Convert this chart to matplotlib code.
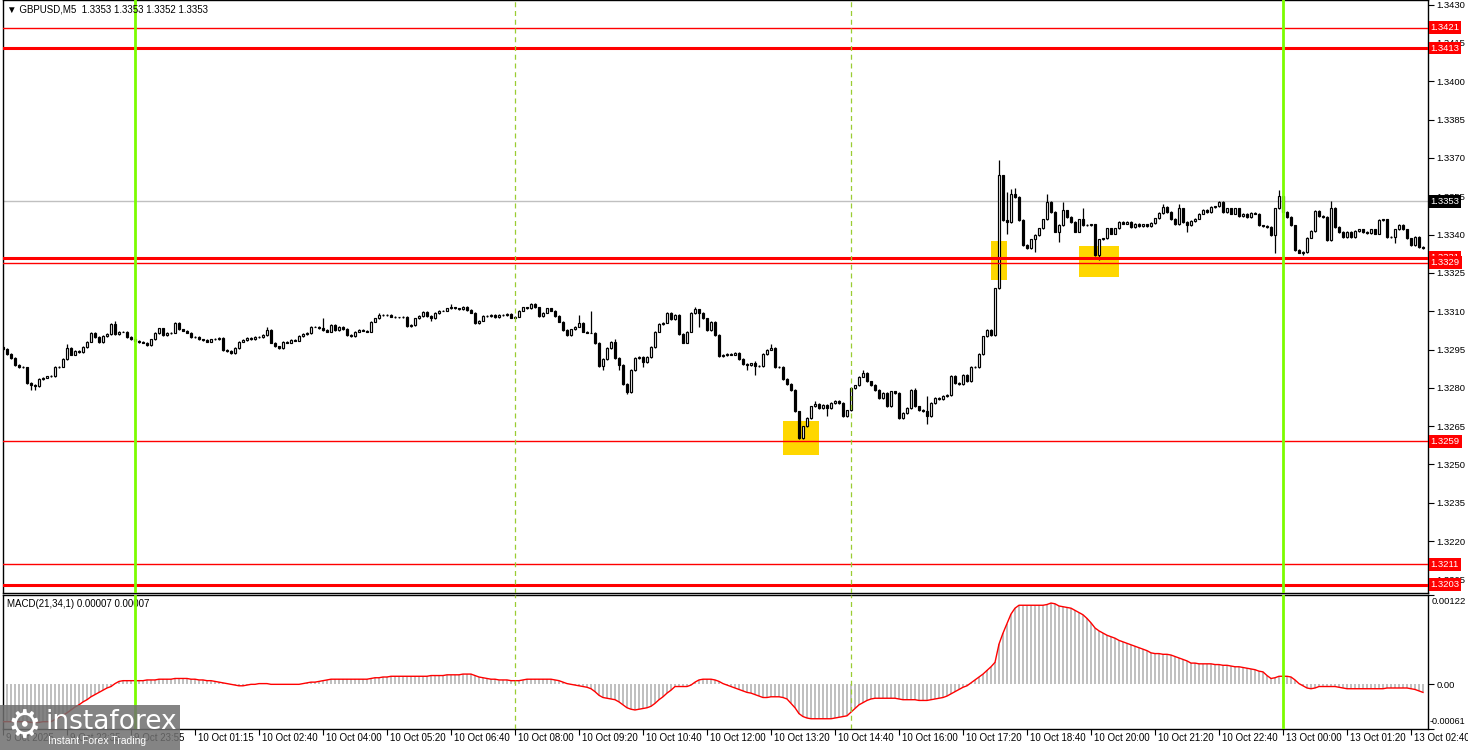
import numpy as np
import matplotlib
matplotlib.use('Agg')
import matplotlib.pyplot as plt
from matplotlib.patches import Rectangle
import matplotlib.transforms as mtransforms

plt.rcParams['font.family'] = ['Liberation Sans', 'DejaVu Sans']

W, H = 1468, 750

# ---- data (prices in 1e-5 units) ----
first_open = 132960
closes_pt = [
    132951, 132933, 132916, 132890, 132881, 132880, 132818, 132813, 132806, 132834,
    132840, 132845, 132847, 132881, 132883, 132912, 132955, 132930, 132945, 132940,
    132960, 132981, 133014, 133000, 132980, 133003, 133011, 133050, 133011, 133020,
    133020, 133000, 132990, 132985, 132980, 132977, 132968, 132990, 133014, 133033,
    133007, 133014, 133016, 133053, 133029, 133024, 133016, 133000, 132998, 132990,
    132988, 132981, 132990, 132992, 132995, 132949, 132944, 132935, 132955, 132981,
    132988, 132995, 132990, 132999, 132998, 133007, 133027, 132977, 132962, 132955,
    132980, 132977, 132988, 132985, 133003, 133010, 133014, 133040, 133040, 133033,
    133027, 133020, 133046, 133025, 133040, 133030, 133007, 133003, 133020, 133027,
    133024, 133020, 133059, 133072, 133085, 133085, 133085, 133079, 133076, 133076,
    133079, 133042, 133046, 133072, 133081, 133098, 133081, 133072, 133092, 133102,
    133102, 133111, 133115, 133111, 133107, 133118, 133105, 133094, 133053, 133063,
    133081, 133081, 133085, 133076, 133085, 133085, 133088, 133075, 133079, 133102,
    133115, 133111, 133128, 133115, 133081, 133094, 133111, 133102, 133081, 133059,
    133027, 133007, 133029, 133040, 133055, 133020, 133016, 133016, 132975, 132884,
    132912, 132955, 132980, 132916, 132890, 132816, 132782, 132870, 132916, 132920,
    132900, 132920, 132959, 133020, 133050, 133055, 133094, 133068, 133085, 133011,
    132977, 133020, 133092, 133107, 133094, 133072, 133027, 133059, 133007, 132925,
    132929, 132933, 132930, 132936, 132912, 132894, 132890, 132896, 132886, 132886,
    132933, 132950, 132955, 132881, 132881, 132834, 132816, 132792, 132708, 132604,
    132649, 132682, 132727, 132738, 132721, 132734, 132721, 132740, 132750, 132740,
    132688, 132712, 132800, 132810, 132844, 132860, 132825, 132812, 132792, 132760,
    132779, 132727, 132786, 132779, 132682, 132701, 132721, 132792, 132727, 132714,
    132708, 132688, 132740, 132760, 132755, 132769, 132773, 132847, 132818, 132816,
    132851, 132825, 132881, 132881, 132933, 133001, 133027, 133007, 133189, 133632,
    133456, 133450, 133560, 133547, 133456, 133359, 133346, 133381, 133398, 133424,
    133459, 133528, 133489, 133411, 133437, 133495, 133469, 133450, 133411, 133459,
    133437, 133437, 133440, 133320, 133381, 133385, 133424, 133404, 133424, 133450,
    133443, 133450, 133428, 133443, 133433, 133440, 133433, 133446, 133463, 133485,
    133508, 133489, 133460, 133440, 133502, 133449, 133436, 133453, 133462, 133482,
    133498, 133489, 133508, 133510, 133528, 133489, 133502, 133482, 133502, 133472,
    133482, 133469, 133485, 133482, 133436, 133433, 133430, 133398, 133502, 133550,
    133489, 133469, 133436, 133339, 133329, 133332, 133388, 133414, 133492, 133472,
    133469, 133378, 133505, 133430, 133410, 133391, 133410, 133391, 133414, 133420,
    133410, 133407, 133420, 133404, 133456, 133459, 133391, 133391, 133420, 133437,
    133420, 133385, 133359, 133391, 133352, 133346,
]
# long wicks (bar index -> price in 1e-5)
highs_pt = {16: 132970, 28: 133060, 66: 133040, 80: 133072, 94: 133094, 112: 133130,
            144: 133085, 147: 133100, 153: 132990, 173: 133115, 188: 132905,
            192: 132972, 203: 132750, 215: 132870, 228: 132800, 231: 132770,
            249: 133690, 251: 133567, 252: 133580, 253: 133584, 261: 133560,
            265: 133528, 270: 133502, 290: 133521, 294: 133521, 319: 133574,
            332: 133532}
lows_pt = {7: 132792, 8: 132790, 107: 133060, 150: 132868, 154: 132870, 156: 132777,
           160: 132880, 174: 133040, 186: 132870, 188: 132850, 199: 132598,
           206: 132688, 231: 132660, 251: 133404, 258: 133333, 264: 133372,
           274: 133300, 296: 133411, 318: 133329, 325: 133320, 348: 133365}
wick_pt = 3

# MACD(21,34,1) main line, 1e-5 units
macd_pt = [
    -51, -51, -51, -51, -51, -51, -51, -52, -52, -52,
    -51, -51, -51, -48, -45, -42, -39, -35, -31, -28,
    -24, -21, -17, -14, -11, -8, -5, -3, 1, 4,
    5, 5, 5, 5, 5, 5, 6, 6, 6, 7,
    7, 7, 7, 8, 8, 8, 8, 7, 7, 6,
    6, 5, 5, 4, 3, 2, 1, 0, -1, -2,
    -2, -1, 0, 0, 1, 1, 1, 0, 0, 0,
    0, 0, 0, 0, 0, 1, 2, 3, 3, 4,
    5, 6, 7, 7, 7, 7, 7, 7, 7, 7,
    7, 7, 8, 9, 9, 10, 10, 11, 11, 11,
    11, 11, 11, 11, 11, 11, 11, 12, 12, 12,
    12, 13, 13, 13, 13, 14, 14, 14, 12, 10,
    9, 8, 7, 7, 6, 6, 6, 5, 5, 5,
    6, 7, 7, 7, 7, 7, 7, 7, 6, 5,
    3, 1, 0, -1, -2, -3, -4, -6, -10, -15,
    -18, -19, -20, -21, -24, -28, -32, -34, -35, -34,
    -33, -32, -30, -26, -21, -17, -12, -8, -3, -3,
    -3, -3, -1, 3, 6, 7, 7, 7, 6, 4,
    1, -1, -3, -5, -7, -9, -11, -12, -14, -16,
    -18, -18, -17, -17, -17, -18, -20, -26, -32, -40,
    -44, -46, -47, -47, -47, -47, -47, -47, -46, -45,
    -44, -43, -38, -33, -28, -25, -22, -20, -19, -19,
    -19, -19, -19, -19, -20, -21, -21, -21, -21, -22,
    -22, -22, -21, -20, -19, -18, -16, -13, -10, -7,
    -4, -2, 2, 6, 10, 14, 19, 24, 30, 55,
    70, 83, 96, 104, 108, 108, 108, 108, 108, 108,
    108, 109, 111, 110, 107, 106, 105, 104, 101, 98,
    95, 90, 84, 77, 73, 70, 67, 65, 63, 60,
    58, 56, 54, 52, 50, 48, 46, 43, 42, 42,
    41, 41, 40, 38, 36, 34, 32, 29, 29, 28,
    28, 28, 28, 27, 27, 26, 26, 25, 24, 24,
    23, 22, 21, 20, 18, 17, 12, 8, 9, 11,
    11, 11, 10, 6, 1, -2, -5, -6, -5, -3,
    -3, -3, -3, -3, -4, -5, -6, -6, -6, -6,
    -6, -6, -6, -6, -6, -6, -5, -5, -5, -5,
    -5, -5, -6, -7, -9, -11,
]

time_ticks = [0, 16, 32, 48, 64, 80, 96, 112, 128, 144, 160, 176, 192, 208,
              224, 240, 256, 272, 288, 304, 320, 336, 352]
time_labels = ['9 Oct 2025', '9 Oct 22:35', '9 Oct 23:55', '10 Oct 01:15',
               '10 Oct 02:40', '10 Oct 04:00', '10 Oct 05:20', '10 Oct 06:40',
               '10 Oct 08:00', '10 Oct 09:20', '10 Oct 10:40', '10 Oct 12:00',
               '10 Oct 13:20', '10 Oct 14:40', '10 Oct 16:00', '10 Oct 17:20',
               '10 Oct 18:40', '10 Oct 20:00', '10 Oct 21:20', '10 Oct 22:40',
               '13 Oct 00:00', '13 Oct 01:20', '13 Oct 02:40']

levels_thick = [1.3413, 1.3331, 1.3203]
levels_thin = [1.3421, 1.3329, 1.3259, 1.3211]
label_order = [1.3421, 1.3413, 1.3331, 1.3329, 1.3259, 1.3211, 1.3203]
bid = 1.3353
day_lines = [33, 320]
session_lines = [128, 212]
# yellow zones: (bar from, bar to, price low, price high)
zones = [(195, 204, 1.32538, 1.32671),
         (247, 251, 1.33222, 1.33374),
         (269, 279, 1.33234, 1.33355)]
title = u'\u25bc GBPUSD,M5  1.3353 1.3353 1.3352 1.3353'
macd_title = 'MACD(21,34,1) 0.00007 0.00007'

# ---- derived series ----
close = np.array(closes_pt) / 1e5
open_ = np.concatenate([[first_open / 1e5], close[:-1]])
high = np.maximum(open_, close) + wick_pt / 1e5
low = np.minimum(open_, close) - wick_pt / 1e5
for k, v in highs_pt.items():
    high[k] = v / 1e5
for k, v in lows_pt.items():
    low[k] = v / 1e5
macd = np.array(macd_pt) / 1e5
idx = np.arange(len(close))


def fx(px):
    return px / W


def fy(py):
    return 1 - py / H


fig = plt.figure(figsize=(W / 100, H / 100), dpi=100)
ax = fig.add_axes([fx(3), fy(593), fx(1428) - fx(3), fy(0) - fy(593)])
ax2 = fig.add_axes([fx(3), fy(729), fx(1428) - fx(3), fy(595) - fy(729)])

fs = 7      # left / bottom texts
fsr = 6.8   # right scale texts

# ---- price panel ----
for x0, x1, p0, p1 in zones:
    ax.add_patch(Rectangle((x0, p0), x1 - x0, p1 - p0, fc='#FFD700', ec='none', zorder=1))

ax.axhline(bid, color='#C0C0C0', lw=1, zorder=1.5)
ax.vlines(idx, low, high, color='black', lw=0.9, zorder=2)
bull = close >= open_
body_lo = np.minimum(open_, close)
body_h = np.abs(close - open_)
ax.bar(idx[bull], body_h[bull], bottom=body_lo[bull], width=0.62, color='white',
       edgecolor='black', linewidth=0.85, zorder=3)
ax.bar(idx[~bull], body_h[~bull], bottom=body_lo[~bull], width=0.62, color='black',
       edgecolor='black', linewidth=0.85, zorder=3)

for lv in levels_thick:
    ax.axhline(lv, color='#FF0000', lw=2.2, zorder=4)
for lv in levels_thin:
    ax.axhline(lv, color='#FF0000', lw=1.0, zorder=4)

for a in (ax, ax2):
    for d in day_lines:
        a.axvline(d, color='#7CFC00', lw=2, zorder=5)
    for d in session_lines:
        a.axvline(d, color='#9ACD32', lw=0.9, ls=(0, (4, 3)), zorder=5)
    for s in a.spines.values():
        s.set_color('black')
        s.set_linewidth(1)
    a.set_xlim(0, 356.25)

ax.set_ylim(1.31997, 1.34318)
ax.set_xticks([])
ax.yaxis.tick_right()
yt = np.round(np.arange(1.3205, 1.34301, 0.0015), 4)
ax.set_yticks(yt)
ax.set_yticklabels(['%.4f' % v for v in yt])
ax.tick_params(axis='y', direction='out', length=4, width=0.8, pad=2, labelsize=fsr)

tr = mtransforms.blended_transform_factory(ax.transAxes, ax.transData)
for lv in label_order:
    ax.text(1.0018, lv, '%.4f' % lv, transform=tr, color='white', fontsize=fsr,
            ha='left', va='center', clip_on=False, zorder=10,
            bbox=dict(boxstyle='square,pad=0.2', fc='#FF0000', ec='none'))
ax.text(1.0018, bid, '%.4f' % bid, transform=tr, color='white', fontsize=fsr,
        ha='left', va='center', clip_on=False, zorder=10,
        bbox=dict(boxstyle='square,pad=0.2', fc='black', ec='none'))

fig.text(fx(7), fy(10), title, fontsize=fs, ha='left', va='center')

# ---- MACD panel ----
ax2.bar(idx, macd, width=0.6, color='#C0C0C0', zorder=2)
ax2.plot(idx, macd, color='#FF0000', lw=1, zorder=3)
ax2.set_ylim(-0.00061, 0.00122)
ax2.yaxis.tick_right()
ax2.set_yticks([-0.00061, 0, 0.00122])
ax2.set_yticklabels(['', '0.00', ''])
ax2.tick_params(axis='y', direction='out', length=4, width=0.8, pad=2, labelsize=fsr)
ax2.text(1.0025, 0.985, '0.00122', transform=ax2.transAxes, fontsize=fsr,
         ha='left', va='top', clip_on=False)
ax2.text(1.0012, 0.02, '-0.00061', transform=ax2.transAxes, fontsize=6.5,
         ha='left', va='bottom', clip_on=False)
ax2.text(0.003, 0.93, macd_title, transform=ax2.transAxes, fontsize=fs,
         ha='left', va='center')

ax2.set_xticks(time_ticks)
ax2.set_xticklabels([])
ax2.tick_params(axis='x', direction='out', length=4, width=0.8)
trx = mtransforms.blended_transform_factory(ax2.transData, ax2.transAxes)
for t, lab in zip(time_ticks, time_labels):
    ax2.text(t + 0.7, -0.068, lab, transform=trx, fontsize=fs, ha='left',
             va='center', clip_on=False)

# ---- watermark ----
fig.patches.append(Rectangle((fx(0), fy(750)), fx(180), fy(705) - fy(750),
                             transform=fig.transFigure, fc='#6f6f6f', ec='none',
                             alpha=0.85, zorder=20))
fig.text(fx(24), fy(727), u'\u2699', fontsize=27, color='white', ha='center',
         va='center', family='DejaVu Sans', zorder=21)
fig.text(fx(45), fy(722), 'instaforex', fontsize=19, color='white', ha='left',
         va='center', family='DejaVu Sans', zorder=21)
fig.text(fx(48), fy(741), 'Instant Forex Trading', fontsize=7.5, color='white',
         ha='left', va='center', zorder=21)

fig.savefig('out.png', dpi=100, facecolor='white')
